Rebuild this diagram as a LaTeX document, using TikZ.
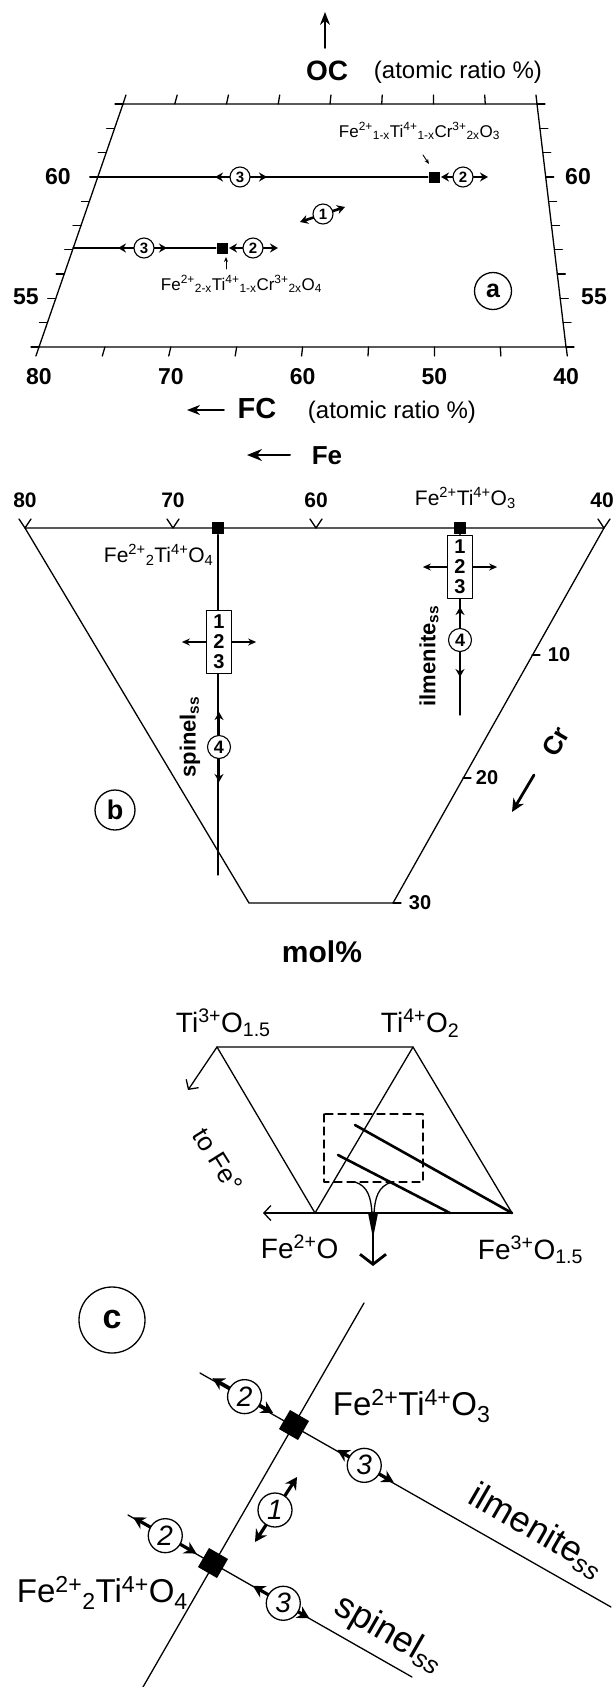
\documentclass[tikz,border=0pt]{standalone}
\usepackage{fontspec}
\setmainfont{Liberation Sans}
\usetikzlibrary{arrows.meta,calc}
\newcommand{\fsz}[1]{\fontsize{#1}{#1}\selectfont}
\newcommand{\up}[1]{\textsuperscript{#1}}
\newcommand{\dn}[1]{\textsubscript{#1}}
\tikzset{
  num/.style={circle, draw, fill=white, inner sep=0pt, line width=1.1pt, minimum size=20pt, font=\bfseries\fsz{15}},
  numc/.style={circle, draw, fill=white, inner sep=0pt, line width=1.3pt, minimum size=34pt, font=\itshape\fsz{28}},
  seg/.style={line width=2.6pt, {Stealth[length=8pt,width=9pt]}-{Stealth[length=8pt,width=9pt]}},
  segc/.style={line width=3.2pt, {Stealth[length=12pt,width=13pt]}-{Stealth[length=12pt,width=13pt]}},
  sq/.style={fill=black, inner sep=0pt, minimum size=12pt},
  tick/.style={font=\bfseries\fsz{23}},
  box/.style={draw, fill=white, inner sep=0pt, minimum width=25pt, minimum height=63pt, align=center, font=\bfseries\fontsize{20}{20}\selectfont},
  panel/.style={circle, draw, inner sep=0pt, line width=1.3pt}
}
\begin{document}
\begin{tikzpicture}[x=1pt, y=-1pt, line cap=round, line join=round, line width=1.3pt]
  \useasboundingbox (0,0) rectangle (614,1687);
  % (a) OC against FC
  \draw[line width=1.6pt, -{Stealth[length=13pt,width=10pt]}] (325,48) -- (325,12);
  \node[font=\bfseries\fsz{28}] (oc) at (327,71) {OC};
  \node[anchor=west, font=\fsz{24}] (ocr) at (370,72) {(atomic ratio \%)};
  \coordinate (aBL) at (39,347);
  \coordinate (aBR) at (566,347);
  \coordinate (aTR) at (537,104);
  \coordinate (aTL) at (123,104);
  \draw (aBL) -- (aBR) -- (aTR) -- (aTL) -- cycle;
  \foreach \f in {0,...,8}{
    \draw (123+51.75*\f,104) -- ++({0.035*(84-14.15*\f)},-9);
    \draw (39+65.9*\f,347) -- ++({-0.037*(84-14.15*\f)},9);
  }
  \foreach \o in {0,...,10}{
    \draw (39+8.4*\o,347-24.3*\o) -- ++(-8,0);
    \draw (566-2.9*\o,347-24.3*\o) -- ++(8,0);
  }
  \foreach \v [count=\i from 0] in {80,70,60,50,40}
    \node[tick] (fa\v) at (39+131.8*\i,377) {\v};
  \node[tick] (oa60) at (58,177) {60};
  \node[tick] (oa55) at (26,297) {55};
  \node[tick] (ob60) at (578,177) {60};
  \node[tick] (ob55) at (594,297) {55};
  \node[sq, minimum size=11pt] (ilmA) at (434,177) {};
  \node[sq, minimum size=11pt] (spA) at (222,248) {};
  \draw (98,177) -- (ilmA);
  \draw (73,248) -- (spA);
  \draw[seg] (215,177) -- (267,177);
  \node[num] (a3i) at (240,177) {3};
  \draw[seg] (441,177) -- (488,177);
  \node[num] (a2i) at (463,177) {2};
  \draw[seg] (118,248) -- (167,248);
  \node[num] (a3s) at (144,248) {3};
  \draw[seg] (229,248) -- (278,248);
  \node[num] (a2s) at (253,248) {2};
  \draw[seg] (300,222) -- (345,207);
  \node[num] (a1) at (323,214) {1};
  \node[anchor=base west, font=\fsz{17}] (fIlmA) at (335,137) {Fe\up{2+}\dn{1-x}Ti\up{4+}\dn{1-x}Cr\up{3+}\dn{2x}O\dn{3}};
  \draw[line width=0.9pt, -{Stealth[length=5pt,width=4pt]}] (423,155) -- (429,164);
  \node[anchor=base west, font=\fsz{17}] (fSpA) at (157,290) {Fe\up{2+}\dn{2-x}Ti\up{4+}\dn{1-x}Cr\up{3+}\dn{2x}O\dn{4}};
  \draw[line width=0.9pt, -{Stealth[length=5pt,width=4pt]}] (226,269) -- (226,257);
  \node[panel, minimum size=37pt, font=\bfseries\fsz{25}] (pa) at (493,291) {a};
  \draw[line width=1.8pt, -{Stealth[length=13pt,width=10pt]}] (224,410) -- (187,410);
  \node[font=\bfseries\fsz{29}] (fc) at (257,409) {FC};
  \node[anchor=west, font=\fsz{24}] (fcr) at (304,412) {(atomic ratio \%)};
  % (b) section at constant O
  \draw[line width=2pt, -{Stealth[length=15pt,width=12pt]}] (290,455) -- (247,455);
  \node[font=\bfseries\fsz{26}] (fe) at (327,456) {Fe};
  \coordinate (bTL) at (25,528);
  \coordinate (bTR) at (604,528);
  \coordinate (bBR) at (393,903);
  \coordinate (bBL) at (249,903);
  \draw (bTL) -- (bTR) -- (bBR) -- (bBL) -- cycle;
  \draw (bBR) -- ++(8,0);
  \foreach \x in {25,173,316,604}
    \draw (\x-6,519) -- (\x,528) -- (\x+6,519);
  \node[tick, font=\bfseries\fsz{21}] (fb80) at (25,500) {80};
  \node[tick, font=\bfseries\fsz{21}] (fb70) at (173,500) {70};
  \node[tick, font=\bfseries\fsz{21}] (fb60) at (316,500) {60};
  \node[tick, font=\bfseries\fsz{21}] (fb40) at (602,500) {40};
  \draw (532,655) -- ++(8,0);
  \node[tick, font=\bfseries\fsz{20}] (cr10) at (559,655) {10};
  \draw (463,778) -- ++(8,0);
  \node[tick, font=\bfseries\fsz{20}] (cr20) at (487,778) {20};
  \node[tick, font=\bfseries\fsz{20}] (cr30) at (420,903) {30};
  \node[anchor=base west, font=\fsz{21}] (fIlmB) at (411,505) {Fe\up{2+}Ti\up{4+}O\dn{3}};
  \node[anchor=base west, font=\fsz{21}] (fSpB) at (100,562) {Fe\up{2+}\dn{2}Ti\up{4+}O\dn{4}};
  \node[sq] (spB) at (218,528) {};
  \node[sq] (ilmB) at (460,528) {};
  \draw (spB) -- (218,875);
  \draw (ilmB) -- (460,715);
  \node[box] (boxS) at (219,642) {1\\2\\3};
  \draw[-{Stealth[length=8pt,width=7pt]}] (boxS.west) -- ++(-24,0);
  \draw[-{Stealth[length=8pt,width=7pt]}] (boxS.east) -- ++(24,0);
  \node[box] (boxI) at (460,567) {1\\2\\3};
  \draw[-{Stealth[length=8pt,width=7pt]}] (boxI.west) -- ++(-24,0);
  \draw[-{Stealth[length=8pt,width=7pt]}] (boxI.east) -- ++(24,0);
  \draw[seg] (219,712) -- (219,782);
  \node[num, minimum size=23pt, font=\bfseries\fsz{18}] (b4s) at (219,747) {4};
  \draw[seg] (460,607) -- (460,677);
  \node[num, minimum size=23pt, font=\bfseries\fsz{18}] (b4i) at (460,640) {4};
  \node[rotate=90, font=\bfseries\fsz{22}] (spLb) at (190,737) {spinel\dn{ss}};
  \node[rotate=90, font=\bfseries\fsz{22}] (ilmLb) at (429,656) {ilmenite\dn{ss}};
  \node[panel, minimum size=40pt, font=\bfseries\fsz{27}] (pb) at (115,810) {b};
  \node[rotate=60, font=\bfseries\fsz{26}] (cr) at (556,742) {Cr};
  \draw[line width=2.8pt, -{Stealth[length=13pt,width=12pt]}] (534,775) -- (512,812);
  \node[font=\bfseries\fsz{30}] (mol) at (322,952) {mol\%};
  % (c) ternary Ti-Fe oxides and enlarged part
  \coordinate (ti3) at (217,1047);
  \coordinate (ti4) at (413,1047);
  \coordinate (fe2) at (315,1213);
  \coordinate (fe3) at (512,1213);
  \draw (ti3) -- (ti4) -- (fe3);
  \draw (ti3) -- (fe2) -- (ti4);
  \draw[-{Straight Barb[length=7pt,width=15pt]}] (fe3) -- (263,1213);
  \draw[-{Straight Barb[length=7pt,width=15pt]}] (ti3) -- (188,1090);
  \draw[dash pattern=on 8pt off 5pt] (324,1114) rectangle (423,1182);
  \draw[line width=2.6pt] (355,1125) -- (fe3);
  \draw[line width=2.6pt] (338,1155) -- (450,1213);
  \draw (355,1182) .. controls (368,1186) and (371,1198) .. (372,1213);
  \draw (392,1182) .. controls (378,1186) and (375,1198) .. (374,1213);
  \fill (368,1213) -- (378,1213) -- (373,1238) -- cycle;
  \draw[line width=2.8pt, -{Straight Barb[length=10pt,width=26pt]}] (373,1213) -- (373,1266);
  \node[anchor=base west, font=\fsz{28}] (lTi3) at (172,1032) {Ti\up{3+}O\dn{1.5}};
  \node[anchor=base west, font=\fsz{28}] (lTi4) at (377,1032) {Ti\up{4+}O\dn{2}};
  \node[anchor=base west, font=\fsz{28}] (lFe2) at (257,1258) {Fe\up{2+}O};
  \node[anchor=base west, font=\fsz{28}] (lFe3) at (474,1259) {Fe\up{3+}O\dn{1.5}};
  \node[rotate=-58, font=\fsz{26}] (toFe) at (218,1160) {to Fe°};
  \node[panel, minimum size=66pt, font=\bfseries\fsz{34}] (pc) at (112,1320) {c};
  \coordinate (lnT) at (364,1303);
  \coordinate (lnB) at (143,1687);
  \draw (lnT) -- (lnB);
  \coordinate (ilmS) at (200,1373);
  \coordinate (ilmE) at (611,1607);
  \draw (ilmS) -- (ilmE);
  \coordinate (spS) at (128,1515);
  \coordinate (spE) at (412,1677);
  \draw (spS) -- (spE);
  \node[sq, minimum size=22pt, rotate=-30] (sq1) at (294,1425) {};
  \node[sq, minimum size=22pt, rotate=-30] (sq2) at (213,1563) {};
  \draw[segc] ($(sq1)!-24pt!(ilmE)$) -- ($(sq1)!-94pt!(ilmE)$);
  \node[numc] (c2i) at ($(sq1)!-57pt!(ilmE)$) {2};
  \draw[segc] ($(sq1)!50pt!(ilmE)$) -- ($(sq1)!115pt!(ilmE)$);
  \node[numc] (c3i) at ($(sq1)!81pt!(ilmE)$) {3};
  \draw[segc] ($(sq2)!-19pt!(spE)$) -- ($(sq2)!-92pt!(spE)$);
  \node[numc] (c2s) at ($(sq2)!-55pt!(spE)$) {2};
  \draw[segc] ($(sq2)!46pt!(spE)$) -- ($(sq2)!111pt!(spE)$);
  \node[numc] (c3s) at ($(sq2)!81pt!(spE)$) {3};
  \draw[segc] (255,1542) -- (297,1477);
  \node[numc] (c1) at (275,1510) {1};
  \node[anchor=base west, font=\fsz{33}] (fIlmC) at (329,1415) {Fe\up{2+}Ti\up{4+}O\dn{3}};
  \node[anchor=base west, font=\fsz{33}] (fSpC) at (13,1602) {Fe\up{2+}\dn{2}Ti\up{4+}O\dn{4}};
  \node[rotate=-30, font=\fsz{36}] (ilmC) at (537,1531) {ilmenite\dn{\itshape ss}};
  \node[rotate=-30, font=\fsz{36}] (spC) at (389,1634) {spinel\dn{\itshape ss}};
\end{tikzpicture}
\end{document}
